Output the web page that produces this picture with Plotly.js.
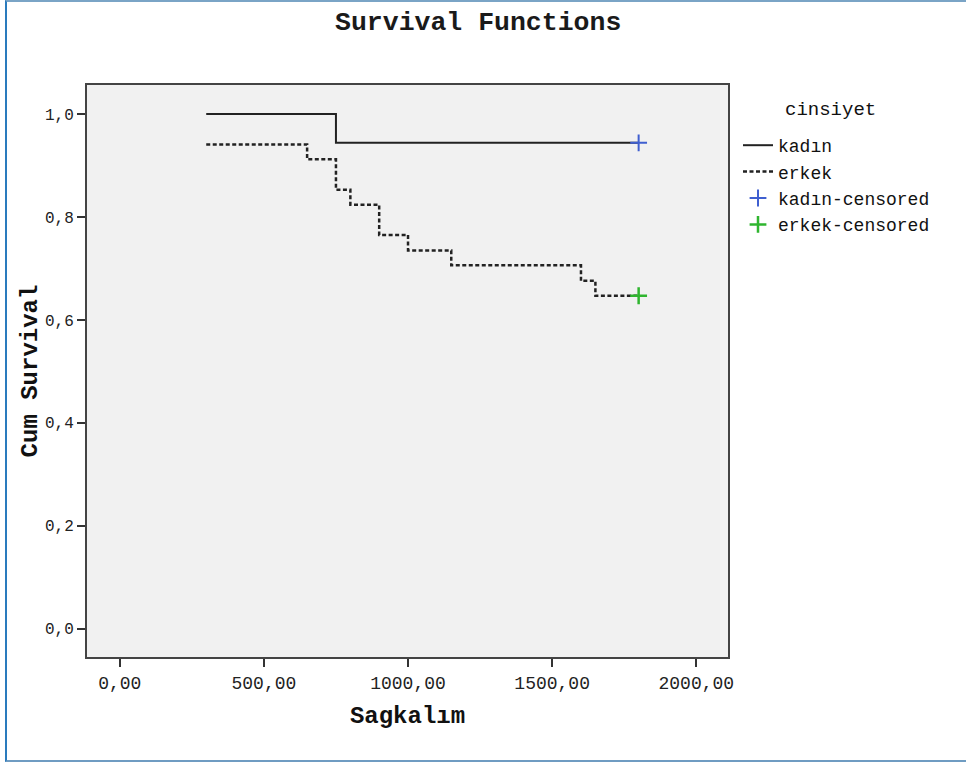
<!DOCTYPE html>
<html>
<head>
<meta charset="utf-8">
<script src="https://cdn.plot.ly/plotly-3.0.1.min.js"></script>
<style>
  html, body { margin: 0; padding: 0; background: #ffffff; }
  #wrap { position: relative; width: 966px; height: 764px; }
  #chart { width: 966px; height: 764px; }
  #frame {
    position: absolute; left: 5px; top: 0px; width: 966px; height: 762px;
    border-left: 2px solid #2a7bbd; border-top: 2px solid #7aa4c6; border-bottom: 2px solid #6f9cc2;
    box-sizing: border-box; pointer-events: none;
  }
</style>
</head>
<body>
<div id="wrap">
  <div id="chart"></div>
  <div id="frame"></div>
</div>
<script>
// Kaplan-Meier steps
const kadinTime = [300, 750, 1800];
const kadinSurv = [1.0, 0.944, 0.944];
const erkekTime = [300, 650, 750, 800, 900, 1000, 1150, 1600, 1650, 1800];
const erkekSurv = [0.941, 0.912, 0.853, 0.824, 0.765, 0.735, 0.706, 0.676, 0.647, 0.647];
const kadinCensTime = [1800];
const kadinCensSurv = [0.944];
const erkekCensTime = [1800];
const erkekCensSurv = [0.647];

const xTickVals = [0, 500, 1000, 1500, 2000];
const xTickText = ["0,00", "500,00", "1000,00", "1500,00", "2000,00"];
const yTickVals = [0, 0.2, 0.4, 0.6, 0.8, 1.0];
const yTickText = ["0,0", "0,2", "0,4", "0,6", "0,8", "1,0"];

const mono = "Liberation Mono, Courier New, monospace";

const traces = [
  {
    x: kadinTime, y: kadinSurv, name: "kadın", mode: "lines", type: "scatter",
    line: { shape: "hv", color: "#222222", width: 2 }
  },
  {
    x: erkekTime, y: erkekSurv, name: "erkek", mode: "lines", type: "scatter",
    line: { shape: "hv", color: "#222222", width: 2.5, dash: "4px,2.5px" }
  },
  {
    x: kadinCensTime, y: kadinCensSurv, name: "kadın-censored", mode: "markers", type: "scatter",
    marker: { symbol: "cross-thin", size: 12, color: "#3f5fd0", line: { color: "#3f5fd0", width: 2 } }
  },
  {
    x: erkekCensTime, y: erkekCensSurv, name: "erkek-censored", mode: "markers", type: "scatter",
    marker: { symbol: "cross-thin", size: 12, color: "#2fb52f", line: { color: "#2fb52f", width: 2.5 } }
  }
];

const plotW = 966 - 87 - 238;
const plotH = 764 - 85 - 107;

const layout = {
  width: 966, height: 764,
  margin: { l: 87, r: 238, t: 85, b: 107 },
  paper_bgcolor: "#ffffff",
  plot_bgcolor: "#f1f1f1",
  showlegend: true,
  title: {
    text: "<b>Survival Functions</b>",
    font: { family: mono, size: 26.5, color: "#1a1a1a" },
    xref: "container", yref: "container",
    x: 0.495, xanchor: "center", y: 1 - 21 / 764, yanchor: "middle"
  },
  xaxis: {
    range: [-113.6, 2110],
    tickvals: xTickVals, ticktext: xTickText,
    ticks: "outside", ticklen: 8, tickwidth: 2, tickcolor: "#333333",
    showline: true, mirror: true, linecolor: "#444444", linewidth: 2,
    showgrid: false, zeroline: false,
    tickfont: { family: mono, size: 18, color: "#222222" },
    title: { text: "<b>Sagkalım</b>", font: { family: mono, size: 24, color: "#111111" }, standoff: 14 },
    automargin: false, fixedrange: true
  },
  yaxis: {
    range: [-0.0548, 1.0564],
    tickvals: yTickVals, ticktext: yTickText,
    ticks: "outside", ticklen: 8, tickwidth: 2, tickcolor: "#333333",
    showline: true, mirror: true, linecolor: "#444444", linewidth: 2,
    showgrid: false, zeroline: false,
    tickfont: { family: mono, size: 16, color: "#222222" },
    title: { text: "<b>Cum Survival</b>", font: { family: mono, size: 24, color: "#111111" }, standoff: 1 },
    automargin: false, fixedrange: true
  },
  legend: {
    x: (738 - 87) / plotW, xanchor: "left",
    y: 1 - (127 - 85) / plotH, yanchor: "top",
    font: { family: mono, size: 18, color: "#111111" },
    bgcolor: "rgba(0,0,0,0)", borderwidth: 0,
    tracegroupgap: 0
  },
  annotations: [
    {
      text: "cinsiyet", showarrow: false,
      xref: "paper", yref: "paper",
      x: (830 - 87) / plotW, xanchor: "center",
      y: 1 - (110 - 85) / plotH, yanchor: "middle",
      font: { family: mono, size: 19, color: "#111111" }
    }
  ]
};

Plotly.newPlot("chart", traces, layout, { displayModeBar: false, staticPlot: true });
</script>
</body>
</html>
